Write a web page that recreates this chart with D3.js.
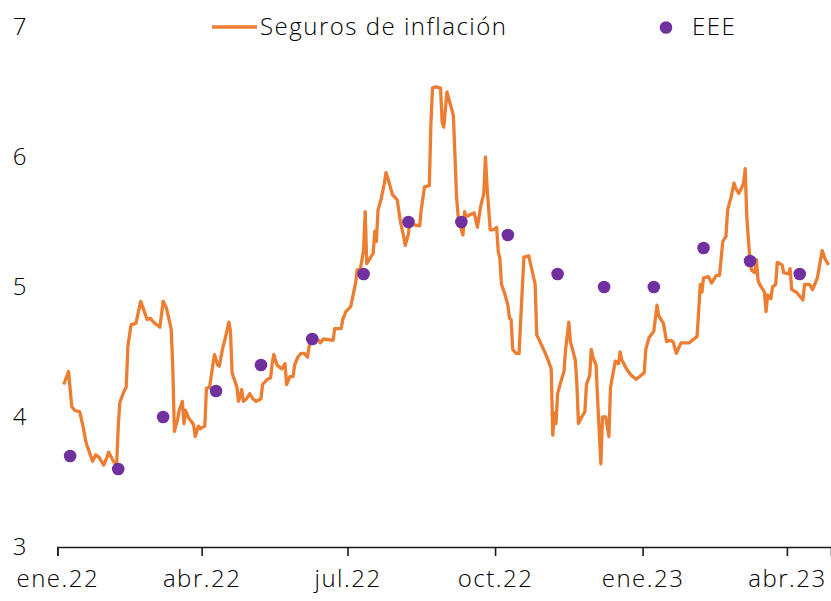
<!DOCTYPE html>
<html>
<head>
<meta charset="utf-8">
<script src="https://cdn.jsdelivr.net/npm/d3@7"></script>
<style>
  html, body { margin: 0; padding: 0; background: #fff; }
  svg text { font-family: "Open Sans", sans-serif; font-weight: 300; font-size: 24px; fill: #000; letter-spacing: 1.5px; }
</style>
</head>
<body>
<svg id="chart" width="831" height="601"></svg>
<script>
// ---- Data ----
const lineDates = ["2022-01-05","2022-01-08","2022-01-10","2022-01-12","2022-01-15","2022-01-17","2022-01-19","2022-01-21","2022-01-23","2022-01-25","2022-01-27","2022-01-30","2022-02-01","2022-02-02","2022-02-05","2022-02-07","2022-02-08","2022-02-09","2022-02-11","2022-02-13","2022-02-14","2022-02-16","2022-02-19","2022-02-22","2022-02-24","2022-02-26","2022-02-28","2022-03-02","2022-03-06","2022-03-08","2022-03-10","2022-03-13","2022-03-14","2022-03-15","2022-03-17","2022-03-18","2022-03-20","2022-03-21","2022-03-22","2022-03-24","2022-03-26","2022-03-27","2022-03-28","2022-03-30","2022-03-31","2022-04-03","2022-04-04","2022-04-06","2022-04-08","2022-04-09","2022-04-11","2022-04-12","2022-04-14","2022-04-16","2022-04-18","2022-04-19","2022-04-20","2022-04-23","2022-04-24","2022-04-26","2022-04-27","2022-04-29","2022-05-01","2022-05-03","2022-05-05","2022-05-08","2022-05-09","2022-05-12","2022-05-14","2022-05-15","2022-05-16","2022-05-18","2022-05-21","2022-05-23","2022-05-24","2022-05-26","2022-05-28","2022-05-29","2022-05-31","2022-06-02","2022-06-04","2022-06-06","2022-06-07","2022-06-09","2022-06-13","2022-06-14","2022-06-16","2022-06-22","2022-06-23","2022-06-27","2022-06-28","2022-06-30","2022-07-03","2022-07-06","2022-07-07","2022-07-09","2022-07-11","2022-07-12","2022-07-13","2022-07-15","2022-07-17","2022-07-18","2022-07-19","2022-07-20","2022-07-22","2022-07-24","2022-07-25","2022-07-27","2022-07-29","2022-08-01","2022-08-03","2022-08-05","2022-08-06","2022-08-08","2022-08-09","2022-08-11","2022-08-15","2022-08-16","2022-08-18","2022-08-21","2022-08-22","2022-08-23","2022-08-25","2022-08-28","2022-08-29","2022-08-30","2022-09-01","2022-09-03","2022-09-05","2022-09-07","2022-09-08","2022-09-09","2022-09-11","2022-09-12","2022-09-13","2022-09-16","2022-09-18","2022-09-20","2022-09-22","2022-09-24","2022-09-25","2022-09-26","2022-09-28","2022-09-30","2022-10-02","2022-10-03","2022-10-04","2022-10-05","2022-10-07","2022-10-09","2022-10-10","2022-10-11","2022-10-12","2022-10-14","2022-10-16","2022-10-17","2022-10-19","2022-10-22","2022-10-24","2022-10-26","2022-10-27","2022-10-29","2022-11-01","2022-11-03","2022-11-05","2022-11-06","2022-11-07","2022-11-08","2022-11-09","2022-11-11","2022-11-13","2022-11-14","2022-11-16","2022-11-17","2022-11-20","2022-11-21","2022-11-22","2022-11-24","2022-11-26","2022-11-27","2022-11-29","2022-11-30","2022-12-01","2022-12-03","2022-12-04","2022-12-06","2022-12-07","2022-12-09","2022-12-11","2022-12-12","2022-12-15","2022-12-17","2022-12-18","2022-12-19","2022-12-22","2022-12-25","2022-12-28","2022-12-30","2023-01-02","2023-01-03","2023-01-05","2023-01-08","2023-01-10","2023-01-11","2023-01-14","2023-01-16","2023-01-18","2023-01-20","2023-01-22","2023-01-25","2023-01-28","2023-01-30","2023-02-02","2023-02-04","2023-02-06","2023-02-07","2023-02-08","2023-02-11","2023-02-13","2023-02-16","2023-02-18","2023-02-20","2023-02-22","2023-02-23","2023-02-24","2023-02-25","2023-02-27","2023-02-28","2023-03-02","2023-03-04","2023-03-05","2023-03-06","2023-03-07","2023-03-09","2023-03-10","2023-03-12","2023-03-13","2023-03-14","2023-03-15","2023-03-18","2023-03-19","2023-03-20","2023-03-22","2023-03-23","2023-03-25","2023-03-26","2023-03-29","2023-03-30","2023-04-02","2023-04-03","2023-04-04","2023-04-07","2023-04-11","2023-04-12","2023-04-15","2023-04-17","2023-04-20","2023-04-23","2023-04-25","2023-04-27"];
const lineValues = [4.25,4.35,4.08,4.05,4.04,3.93,3.80,3.73,3.66,3.71,3.69,3.63,3.69,3.73,3.66,3.63,3.93,4.11,4.18,4.23,4.54,4.71,4.72,4.89,4.82,4.75,4.76,4.73,4.69,4.89,4.84,4.68,4.39,3.89,3.98,4.05,4.12,3.95,4.05,3.99,3.96,3.94,3.85,3.93,3.91,3.93,4.22,4.23,4.40,4.48,4.40,4.39,4.52,4.62,4.73,4.66,4.34,4.23,4.12,4.21,4.12,4.14,4.18,4.14,4.12,4.14,4.25,4.29,4.30,4.41,4.48,4.40,4.37,4.41,4.25,4.31,4.31,4.40,4.46,4.49,4.49,4.46,4.54,4.60,4.59,4.57,4.60,4.59,4.68,4.68,4.75,4.81,4.85,5.03,5.13,5.14,5.28,5.58,5.18,5.22,5.26,5.43,5.35,5.59,5.68,5.80,5.88,5.80,5.71,5.67,5.50,5.39,5.32,5.41,5.53,5.48,5.47,5.60,5.77,5.78,6.26,6.53,6.54,6.53,6.27,6.23,6.50,6.41,6.32,5.69,5.54,5.48,5.40,5.58,5.54,5.56,5.57,5.46,5.62,5.72,6.00,5.77,5.44,5.44,5.46,5.27,5.22,5.02,4.95,4.86,4.76,4.75,4.52,4.49,4.49,4.75,5.23,5.24,5.13,5.02,4.63,4.58,4.50,4.44,4.37,3.86,4.03,3.95,4.18,4.27,4.35,4.52,4.73,4.58,4.44,4.26,3.95,4.00,4.04,4.25,4.32,4.52,4.46,4.40,4.12,3.64,4.00,4.00,3.85,4.23,4.43,4.41,4.50,4.44,4.37,4.32,4.29,4.31,4.34,4.52,4.61,4.66,4.86,4.78,4.72,4.58,4.59,4.58,4.49,4.57,4.57,4.57,4.60,4.62,5.02,4.96,5.07,5.08,5.03,5.09,5.09,5.35,5.39,5.59,5.64,5.68,5.80,5.76,5.72,5.77,5.80,5.91,5.54,5.19,5.13,5.11,5.21,5.05,5.02,4.96,4.81,4.94,4.91,5.00,5.02,5.19,5.17,5.11,5.10,5.14,4.98,4.96,4.90,5.02,5.02,4.98,5.07,5.28,5.21,5.17];

const eeeDates = ["2022-01-09","2022-02-08","2022-03-08","2022-04-10","2022-05-08","2022-06-09","2022-07-11","2022-08-08","2022-09-10","2022-10-09","2022-11-09","2022-12-08","2023-01-08","2023-02-08","2023-03-09","2023-04-09"];
const eeeValues = [3.7,3.6,4.0,4.2,4.4,4.6,5.1,5.5,5.5,5.4,5.1,5.0,5.0,5.3,5.2,5.1];

const xTickDates = ["2022-01-01","2022-04-01","2022-07-01","2022-10-01","2023-01-01","2023-04-01"];
const xTickLabels = ["ene.22","abr.22","jul.22","oct.22","ene.23","abr.23"];
const yTicks = [3,4,5,6,7];
const seriesNames = ["Seguros de inflación","EEE"];

// ---- Drawing ----
const parse = d3.timeParse("%Y-%m-%d");
const svg = d3.select("#chart");

const x = d3.scaleTime()
  .domain([parse("2022-01-01"), new Date(2023, 3, 28, 12)])
  .range([57.3, 831]);
const y = d3.scaleLinear().domain([3, 7]).range([547, 27]);

const lineData = lineDates.map((d, i) => ({ date: parse(d), value: lineValues[i] }));
const eeeData = eeeDates.map((d, i) => ({ date: parse(d), value: eeeValues[i] }));

// X axis
const xAxis = d3.axisBottom(x)
  .tickValues(xTickDates.map(parse))
  .tickFormat((d, i) => xTickLabels[i])
  .tickSizeOuter(0)
  .tickSize(9)
  .tickPadding(14);
const gx = svg.append("g").attr("transform", "translate(0,547)").call(xAxis);
gx.select(".domain").attr("stroke", "#1a1a1a").attr("stroke-width", 1.6);
gx.selectAll(".tick line").attr("stroke", "#1a1a1a").attr("stroke-width", 1.6);
gx.selectAll(".tick text").attr("fill", "#000").style("font-size", "24px").attr("dy", "0.71em");

// Y axis (labels only)
const yAxis = d3.axisLeft(y).tickValues(yTicks).tickFormat(d3.format("d")).tickSize(0).tickPadding(0);
const gy = svg.append("g").attr("transform", "translate(28,0)").call(yAxis);
gy.select(".domain").remove();
gy.selectAll(".tick text").attr("fill", "#000").style("font-size", "24px");

// Line
const line = d3.line().x(d => x(d.date)).y(d => y(d.value)).curve(d3.curveLinear);
svg.append("path")
  .datum(lineData)
  .attr("fill", "none")
  .attr("stroke", "#ED7D31")
  .attr("stroke-width", 3.3)
  .attr("stroke-linejoin", "round")
  .attr("d", line);

// Dots
svg.append("g").selectAll("circle")
  .data(eeeData)
  .join("circle")
  .attr("cx", d => x(d.date))
  .attr("cy", d => y(d.value))
  .attr("r", 6.3)
  .attr("fill", "#7030A0");

// Legend
const leg = svg.append("g");
leg.append("line").attr("x1", 212).attr("x2", 257).attr("y1", 27).attr("y2", 27)
  .attr("stroke", "#ED7D31").attr("stroke-width", 3.5);
leg.append("text").attr("x", 260).attr("y", 27).attr("dy", "0.35em").text(seriesNames[0]);
leg.append("circle").attr("cx", 666).attr("cy", 27.5).attr("r", 6.3).attr("fill", "#7030A0");
leg.append("text").attr("x", 692).attr("y", 27).attr("dy", "0.35em").text(seriesNames[1]);
</script>
</body>
</html>
